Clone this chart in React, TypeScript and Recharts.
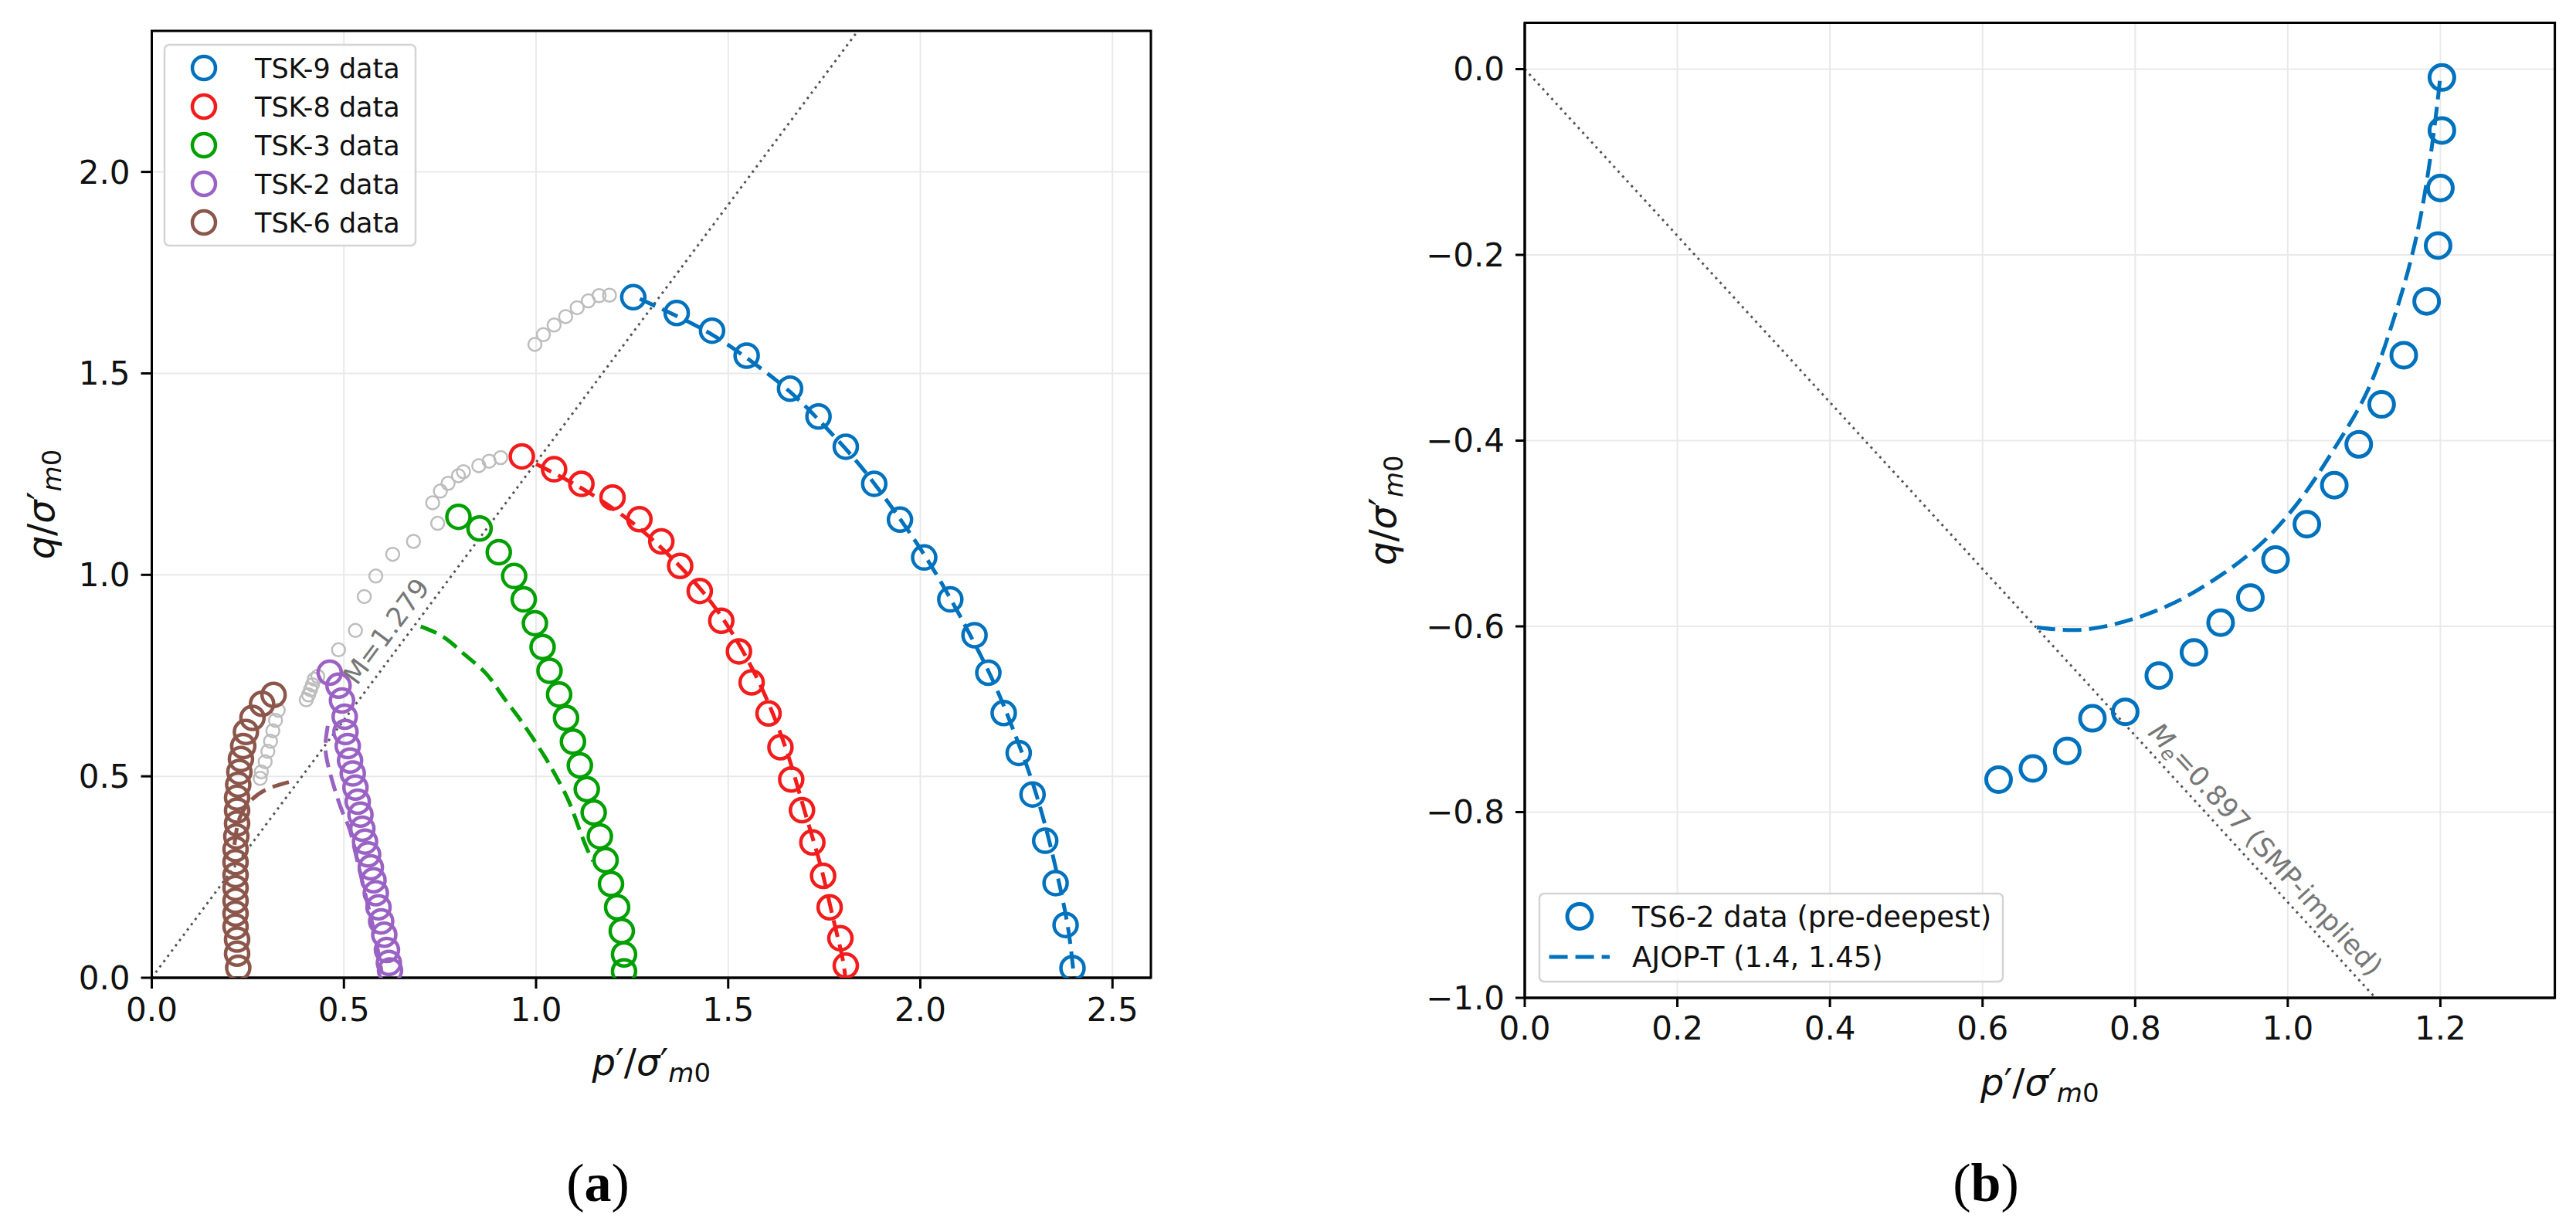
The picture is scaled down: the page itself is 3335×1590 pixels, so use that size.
import React from "react";
import {
  CartesianGrid,
  ComposedChart,
  Label,
  Line,
  ReferenceArea,
  ReferenceDot,
  ReferenceLine,
  Scatter,
  XAxis,
  YAxis,
} from "recharts";

type Pair = [number, number];

const BLUE = "#0072BD";
const RED = "#F21C1C";
const GREEN = "#00A000";
const PURPLE = "#9A62C4";
const BROWN = "#8C564B";
const GRAY = "#BDBDBD";
const FONT = "DejaVu Sans";

// panel (a): p'/sigma'm0, q/sigma'm0 pairs
const tsk9Data: Pair[] = [
  [1.253, 1.689], [1.366, 1.65], [1.458, 1.606], [1.548, 1.544], [1.661, 1.462],
  [1.735, 1.393], [1.806, 1.318], [1.88, 1.226], [1.947, 1.137], [2.01, 1.043],
  [2.078, 0.939], [2.141, 0.85], [2.177, 0.757], [2.217, 0.657], [2.256, 0.558],
  [2.292, 0.455], [2.325, 0.34], [2.352, 0.235], [2.378, 0.131], [2.396, 0.024],
];
const tsk9Fit: Pair[] = [
  [1.27, 1.685], [1.36, 1.645], [1.46, 1.595], [1.56, 1.53], [1.66, 1.455],
  [1.75, 1.37], [1.84, 1.275], [1.92, 1.175], [2.0, 1.065], [2.07, 0.955],
  [2.13, 0.85], [2.19, 0.735], [2.24, 0.62], [2.29, 0.49], [2.33, 0.36],
  [2.36, 0.24], [2.385, 0.12], [2.4, 0.0],
];

const tsk8Data: Pair[] = [
  [0.963, 1.294], [1.047, 1.262], [1.118, 1.226], [1.199, 1.192], [1.269, 1.138],
  [1.326, 1.083], [1.375, 1.022], [1.426, 0.96], [1.482, 0.886], [1.528, 0.81],
  [1.561, 0.733], [1.605, 0.656], [1.636, 0.572], [1.664, 0.492], [1.692, 0.416],
  [1.719, 0.336], [1.747, 0.253], [1.764, 0.175], [1.792, 0.098], [1.806, 0.03],
];
const tsk8Fit: Pair[] = [
  [1.0, 1.275], [1.1, 1.225], [1.2, 1.165], [1.3, 1.09], [1.4, 0.995],
  [1.48, 0.9], [1.55, 0.79], [1.61, 0.67], [1.66, 0.54], [1.7, 0.41],
  [1.74, 0.28], [1.77, 0.16], [1.795, 0.06], [1.805, 0.0],
];

const tsk3Data: Pair[] = [
  [0.798, 1.144], [0.853, 1.115], [0.903, 1.056], [0.943, 0.997], [0.968, 0.939],
  [0.997, 0.88], [1.017, 0.821], [1.035, 0.762], [1.06, 0.703], [1.078, 0.645],
  [1.096, 0.586], [1.114, 0.527], [1.132, 0.468], [1.15, 0.41], [1.166, 0.351],
  [1.181, 0.292], [1.195, 0.233], [1.211, 0.175], [1.223, 0.116], [1.229, 0.058],
  [1.229, 0.016],
];
const tsk3Fit: Pair[] = [
  [0.7, 0.872], [0.76, 0.845], [0.817, 0.8], [0.87, 0.755], [0.91, 0.703],
  [0.95, 0.652], [0.988, 0.6], [1.025, 0.545], [1.055, 0.495], [1.087, 0.434],
  [1.114, 0.365], [1.135, 0.315], [1.148, 0.29],
];

const tsk2Data: Pair[] = [
  [0.463, 0.757], [0.486, 0.725], [0.495, 0.688], [0.502, 0.648], [0.504, 0.61],
  [0.51, 0.575], [0.516, 0.539], [0.523, 0.507], [0.53, 0.472], [0.536, 0.437],
  [0.543, 0.405], [0.548, 0.37], [0.555, 0.338], [0.563, 0.306], [0.57, 0.274],
  [0.577, 0.242], [0.583, 0.21], [0.59, 0.175], [0.597, 0.14], [0.605, 0.107],
  [0.612, 0.069], [0.617, 0.037], [0.62, 0.018],
];
const tsk2Fit: Pair[] = [
  [0.458, 0.625], [0.452, 0.57], [0.462, 0.515], [0.478, 0.462], [0.496, 0.412],
  [0.515, 0.368], [0.53, 0.31], [0.545, 0.25], [0.56, 0.19], [0.575, 0.13],
  [0.588, 0.07], [0.598, 0.015],
];

const tsk6Data: Pair[] = [
  [0.317, 0.702], [0.287, 0.68], [0.262, 0.645], [0.245, 0.61], [0.238, 0.575],
  [0.232, 0.543], [0.228, 0.511], [0.225, 0.479], [0.222, 0.447], [0.222, 0.415],
  [0.222, 0.383], [0.22, 0.351], [0.218, 0.319], [0.218, 0.287], [0.218, 0.255],
  [0.218, 0.223], [0.218, 0.191], [0.218, 0.159], [0.218, 0.127], [0.222, 0.095],
  [0.222, 0.06], [0.225, 0.025],
];
const tsk6Fit: Pair[] = [
  [0.215, 0.33], [0.228, 0.395], [0.258, 0.44], [0.305, 0.47], [0.375, 0.49],
];

// grey pre-peak points of all tests
const prePeak: Pair[] = [
  [0.997, 1.572], [1.019, 1.596], [1.047, 1.62], [1.077, 1.641], [1.107, 1.663],
  [1.136, 1.68], [1.164, 1.693], [1.191, 1.694],
  [0.731, 1.179], [0.751, 1.208], [0.771, 1.227], [0.798, 1.246], [0.811, 1.256],
  [0.851, 1.271], [0.878, 1.282], [0.908, 1.291],
  [0.486, 0.814], [0.53, 0.862], [0.553, 0.946], [0.583, 0.997], [0.627, 1.051],
  [0.681, 1.083], [0.744, 1.128],
  [0.402, 0.69], [0.408, 0.702], [0.413, 0.715], [0.418, 0.727], [0.423, 0.741],
  [0.432, 0.748],
  [0.282, 0.495], [0.285, 0.511], [0.295, 0.536], [0.302, 0.562], [0.309, 0.587],
  [0.315, 0.613], [0.322, 0.639], [0.329, 0.664],
];

const leftXTicks = [0, 0.5, 1, 1.5, 2, 2.5];
const leftYTicks = [0, 0.5, 1, 1.5, 2];
const M_CSL = 1.279;

// panel (b)
const ts62Data: Pair[] = [
  [1.202, -0.009], [1.202, -0.066], [1.2, -0.128], [1.197, -0.19], [1.182, -0.25],
  [1.152, -0.308], [1.123, -0.361], [1.093, -0.404], [1.061, -0.448], [1.025, -0.49],
  [0.984, -0.528], [0.951, -0.569], [0.912, -0.596], [0.877, -0.628], [0.831, -0.653],
  [0.787, -0.692], [0.744, -0.699], [0.711, -0.734], [0.666, -0.753], [0.621, -0.765],
];
const ajopFit: Pair[] = [
  [0.671, -0.601], [0.721, -0.604], [0.776, -0.597], [0.845, -0.577], [0.914, -0.544],
  [0.974, -0.504], [1.024, -0.455], [1.063, -0.406], [1.103, -0.349], [1.133, -0.284],
  [1.157, -0.219], [1.177, -0.146], [1.192, -0.064], [1.2, -0.007],
];
const rightXTicks = [0, 0.2, 0.4, 0.6, 0.8, 1.0, 1.2];
const rightYTicks = [-1, -0.8, -0.6, -0.4, -0.2, 0];
const M_E = 0.897;

const leftSeries = [
  { name: "TSK-9 data", color: BLUE, data: tsk9Data, fit: tsk9Fit },
  { name: "TSK-8 data", color: RED, data: tsk8Data, fit: tsk8Fit },
  { name: "TSK-3 data", color: GREEN, data: tsk3Data, fit: tsk3Fit },
  { name: "TSK-2 data", color: PURPLE, data: tsk2Data, fit: tsk2Fit },
  { name: "TSK-6 data", color: BROWN, data: tsk6Data, fit: tsk6Fit },
];

const pts = (a: Pair[]) => a.map(([p, q]) => ({ p, q }));

const ring = (color: string, r: number, w: number) => (props: any) =>
  <circle cx={props.cx} cy={props.cy} r={r} fill="none" stroke={color} strokeWidth={w} />;

const fmt = (v: number) => (v < 0 ? "\u2212" + Math.abs(v).toFixed(1) : v.toFixed(1));

const tickStyle = { fontSize: 42, fill: "#111", fontFamily: FONT };
const axisLineStyle = { stroke: "#000", strokeWidth: 3 };

function mathParts(v: string, prime: boolean) {
  return [
    <tspan key="a" fontStyle="italic">{v}</tspan>,
    <tspan key="b">{prime ? "\u2032/" : "/"}</tspan>,
    <tspan key="c" fontStyle="italic">{"\u03c3"}</tspan>,
    <tspan key="d">{"\u2032"}</tspan>,
    <tspan key="e" fontStyle="italic" fontSize={34} dy={9}>m</tspan>,
    <tspan key="f" fontSize={34}>0</tspan>,
  ];
}

const xLabel = (props: any) => {
  const { x, y, width } = props.viewBox;
  return (
    <text x={x + width / 2} y={y + 126} textAnchor="middle" fontSize={48} fontFamily={FONT} fill="#111">
      {mathParts("p", true)}
    </text>
  );
};

const yLabel = (dx: number) => (props: any) => {
  const { x, y, height } = props.viewBox;
  const cx = x + dx;
  const cy = y + height / 2;
  return (
    <text x={cx} y={cy} transform={`rotate(-90 ${cx} ${cy})`} textAnchor="middle" fontSize={48} fontFamily={FONT} fill="#111">
      {mathParts("q", false)}
    </text>
  );
};

const slopeText = (angle: number, children: React.ReactNode) => (props: any) =>
  (
    <text
      x={props.cx}
      y={props.cy}
      dy="0.35em"
      transform={`rotate(${angle} ${props.cx} ${props.cy})`}
      textAnchor="middle"
      fontSize={35}
      fontFamily={FONT}
      fill="#777"
    >
      {children}
    </text>
  );

function LeftPanel() {
  return (
    <ComposedChart width={1560} height={1480} margin={{ top: 40, right: 70, bottom: 0, left: 0 }}>
      <CartesianGrid stroke="#e9e9e9" strokeWidth={2} />
      <XAxis
        type="number"
        dataKey="p"
        domain={[0, 2.6]}
        ticks={leftXTicks}
        interval={0}
        allowDataOverflow
        tickFormatter={fmt}
        tick={tickStyle}
        tickSize={14}
        tickMargin={12}
        axisLine={axisLineStyle}
        tickLine={axisLineStyle}
        height={214}
      >
        <Label content={xLabel} />
      </XAxis>
      <YAxis
        type="number"
        dataKey="q"
        domain={[0, 2.35]}
        ticks={leftYTicks}
        interval={0}
        allowDataOverflow
        tickFormatter={fmt}
        tick={tickStyle}
        tickSize={14}
        tickMargin={14}
        axisLine={axisLineStyle}
        tickLine={axisLineStyle}
        width={196.5}
      >
        <Label content={yLabel(70)} />
      </YAxis>
      <ReferenceLine
        segment={[{ x: 0, y: 0 }, { x: 2.35 / M_CSL, y: 2.35 }]}
        stroke="#555"
        strokeWidth={3}
        strokeDasharray="3 5.5"
        ifOverflow="visible"
      />
      <Scatter data={pts(prePeak)} shape={ring(GRAY, 8.5, 2.5)} isAnimationActive={false} />
      {leftSeries.map((s) => (
        <Scatter key={s.name} name={s.name} data={pts(s.data)} shape={ring(s.color, 15, 4.5)} isAnimationActive={false} />
      ))}
      {leftSeries.map((s) => (
        <Line
          key={s.name + "-fit"}
          data={pts(s.fit)}
          dataKey="q"
          type="natural"
          stroke={s.color}
          strokeWidth={5}
          strokeDasharray="22 10"
          dot={false}
          activeDot={false}
          isAnimationActive={false}
        />
      ))}
      <ReferenceDot
        x={0.61}
        y={0.86}
        r={0}
        ifOverflow="visible"
        shape={slopeText(-53.3, "M=1.279")}
      />
      <ReferenceArea x1={0} x2={2.6} y1={0} y2={2.35} fill="none" stroke="#000" strokeWidth={3} ifOverflow="visible" />
    </ComposedChart>
  );
}

function RightPanel() {
  return (
    <ComposedChart width={1575} height={1480} margin={{ top: 29.4, right: 27.4, bottom: 0, left: 0 }}>
      <CartesianGrid stroke="#e9e9e9" strokeWidth={2} />
      <XAxis
        type="number"
        dataKey="p"
        domain={[0, 1.35]}
        ticks={rightXTicks}
        interval={0}
        allowDataOverflow
        tickFormatter={fmt}
        tick={tickStyle}
        tickSize={12}
        tickMargin={12}
        axisLine={axisLineStyle}
        tickLine={axisLineStyle}
        height={188}
      >
        <Label content={xLabel} />
      </XAxis>
      <YAxis
        type="number"
        dataKey="q"
        domain={[-1, 0.05]}
        ticks={rightYTicks}
        interval={0}
        allowDataOverflow
        tickFormatter={fmt}
        tick={tickStyle}
        tickSize={12}
        tickMargin={14}
        axisLine={axisLineStyle}
        tickLine={axisLineStyle}
        width={214}
      >
        <Label content={yLabel(47)} />
      </YAxis>
      <ReferenceLine
        segment={[{ x: 0, y: 0 }, { x: 1 / M_E, y: -1 }]}
        stroke="#555"
        strokeWidth={3}
        strokeDasharray="3 5.5"
        ifOverflow="visible"
      />
      <Scatter data={pts(ts62Data)} shape={ring(BLUE, 16, 5)} isAnimationActive={false} />
      <Line
        data={pts(ajopFit)}
        dataKey="q"
        type="natural"
        stroke={BLUE}
        strokeWidth={5}
        strokeDasharray="24 10"
        dot={false}
        activeDot={false}
        isAnimationActive={false}
      />
      <ReferenceDot
        x={0.971}
        y={-0.84}
        r={0}
        ifOverflow="visible"
        shape={slopeText(47.5, [
          <tspan key="m" fontStyle="italic">M</tspan>,
          <tspan key="e" fontStyle="italic" fontSize={25} dy={6}>e</tspan>,
          <tspan key="r" dy={-6}>=0.897 (SMP-implied)</tspan>,
        ])}
      />
      <ReferenceArea x1={0} x2={1.35} y1={-1} y2={0.05} fill="none" stroke="#000" strokeWidth={3} ifOverflow="visible" />
    </ComposedChart>
  );
}

function Overlay() {
  return (
    <svg width={3335} height={1590} style={{ position: "absolute", left: 0, top: 0, pointerEvents: "none" }}>
      <g fontFamily={FONT} fill="#111">
        <rect x={213} y={58} width={325} height={260} rx={6} fill="#fff" fillOpacity={0.85} stroke="#d4d4d4" strokeWidth={2.5} />
        {leftSeries.map((s, i) => (
          <g key={s.name}>
            <circle cx={264} cy={88 + i * 50} r={15} fill="none" stroke={s.color} strokeWidth={4.5} />
            <text x={330} y={88 + i * 50 + 12.5} fontSize={35}>{s.name}</text>
          </g>
        ))}
        <rect x={1993} y={1157} width={600} height={114} rx={6} fill="#fff" fillOpacity={0.85} stroke="#d4d4d4" strokeWidth={2.5} />
        <circle cx={2045} cy={1186.5} r={16} fill="none" stroke={BLUE} strokeWidth={5} />
        <text x={2113} y={1199.5} fontSize={37}>TS6-2 data (pre-deepest)</text>
        <line x1={2005.6} y1={1239} x2={2084} y2={1239} stroke={BLUE} strokeWidth={5} strokeDasharray="24 10" />
        <text x={2113} y={1252} fontSize={37}>AJOP-T (1.4, 1.45)</text>
      </g>
      <g fontFamily="Liberation Serif" fontSize={70} fill="#000" textAnchor="middle">
        <text x={774} y={1555}>(<tspan fontWeight="bold">a</tspan>)</text>
        <text x={2571} y={1555}>(<tspan fontWeight="bold">b</tspan>)</text>
      </g>
    </svg>
  );
}

export default function App() {
  return (
    <div style={{ position: "absolute", left: 0, top: 0, width: 3335, height: 1590, background: "#fff" }}>
      <div style={{ position: "absolute", left: 0, top: 0 }}>
        <LeftPanel />
      </div>
      <div style={{ position: "absolute", left: 1760, top: 0 }}>
        <RightPanel />
      </div>
      <Overlay />
    </div>
  );
}
